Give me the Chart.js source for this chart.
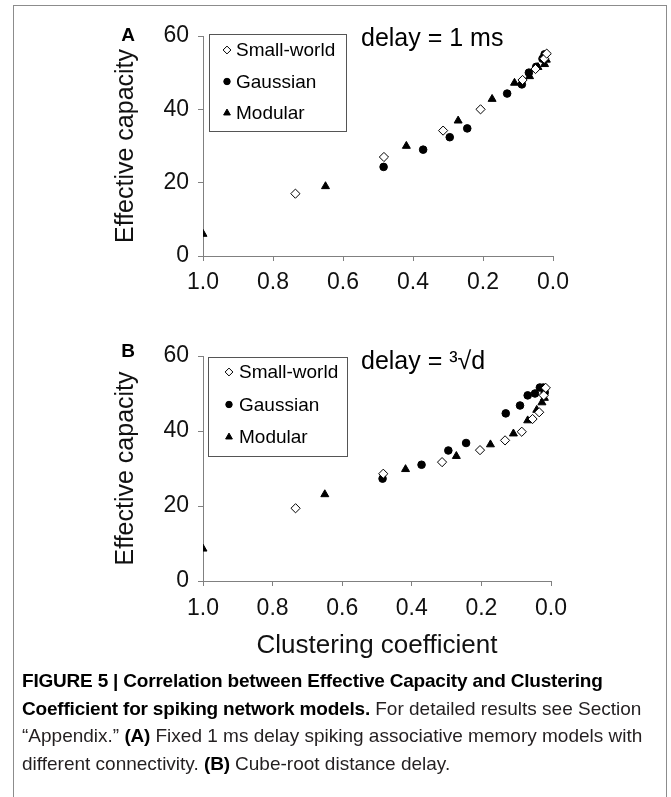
<!DOCTYPE html>
<html>
<head>
<meta charset="utf-8">
<script src="https://cdn.jsdelivr.net/npm/chart.js@4.4.0/dist/chart.umd.min.js"></script>
<style>
  body { margin: 0; background: #fff; width: 671px; height: 797px; overflow: hidden; position: relative; font-family: "Liberation Sans", Arial, sans-serif; }
  #frame { position: absolute; left: 13px; top: 5px; width: 652px; height: 830px; border: 1px solid #8c8c8c; }
  #chartA { position: absolute; left: 0; top: 0; }
  #chartB { position: absolute; left: 0; top: 300px; }
  #caption { position: absolute; left: 22px; top: 667px; width: 645px; font-family: "Liberation Sans Narrow", "Arial Narrow", "Liberation Sans", sans-serif; font-stretch: condensed; font-size: 19px; line-height: 27.6px; color: #231f20; white-space: nowrap; }
  #caption b { color: #000; letter-spacing: -0.2px; }
</style>
</head>
<body>
<div id="frame"></div>
<canvas id="chartA" width="671" height="300"></canvas>
<canvas id="chartB" width="671" height="370"></canvas>
<div id="caption">
  <b>FIGURE 5 | Correlation between Effective Capacity and Clustering</b><br>
  <b>Coefficient for spiking network models.</b> For detailed results see Section<br>
  “Appendix.” <b>(A)</b> Fixed 1 ms delay spiking associative memory models with<br>
  different connectivity. <b>(B)</b> Cube-root distance delay.
</div>
<script>
// Panel A: delay = 1 ms
const swA_x = [0.736, 0.483, 0.314, 0.207, 0.087, 0.05, 0.025, 0.018];
const swA_y = [17, 27, 34.2, 40, 48, 51, 53.8, 55.2];
const gaA_x = [0.484, 0.371, 0.295, 0.245, 0.131, 0.089, 0.069, 0.048, 0.03, 0.024];
const gaA_y = [24.3, 29, 32.4, 34.8, 44.3, 46.8, 50, 51.6, 53.8, 55];
const moA_x = [1.0, 0.65, 0.419, 0.271, 0.174, 0.11, 0.067, 0.043, 0.024, 0.019];
const moA_y = [6, 19, 30, 36.9, 42.8, 47.2, 49, 51.5, 52.3, 53.5];

// Panel B: delay = cube root of distance
const swB_x = [0.734, 0.482, 0.313, 0.204, 0.132, 0.084, 0.053, 0.034, 0.021, 0.015];
const swB_y = [19.4, 28.6, 31.7, 34.9, 37.5, 39.8, 43.2, 45, 49.5, 51.5];
const gaB_x = [0.484, 0.372, 0.295, 0.244, 0.13, 0.089, 0.067, 0.046, 0.032, 0.022, 0.018];
const gaB_y = [27.3, 31, 34.8, 36.8, 44.7, 46.8, 49.5, 50, 51.6, 51.6, 50.3];
const moB_x = [1.0, 0.65, 0.418, 0.272, 0.174, 0.108, 0.067, 0.041, 0.026, 0.019];
const moB_y = [8.6, 23.1, 29.8, 33.3, 36.4, 39.3, 42.8, 45.6, 47.6, 48.8];

const seriesNames = ["Small-world", "Gaussian", "Modular"];
const xTicks = [1.0, 0.8, 0.6, 0.4, 0.2, 0.0];
const yTicks = [0, 20, 40, 60];

const FONT = '"Liberation Sans", Arial, sans-serif';
const AXIS_GREY = "#808080";

function pts(xs, ys) {
  return xs.map((x, i) => ({ x: x, y: ys[i] }));
}

function makeDatasets(sw, ga, mo) {
  return [
    { label: seriesNames[0], data: sw, pointStyle: "rectRot", pointRadius: 4.6, backgroundColor: "#fff", borderColor: "#000", borderWidth: 1 },
    { label: seriesNames[1], data: ga, pointStyle: "circle", pointRadius: 3.8, backgroundColor: "#000", borderColor: "#000", borderWidth: 1 },
    { label: seriesNames[2], data: mo, pointStyle: "triangle", pointRadius: 4.6, backgroundColor: "#000", borderColor: "#000", borderWidth: 1 }
  ];
}

function drawMarker(ctx, style, x, y, r, fill) {
  ctx.beginPath();
  if (style === "circle") {
    ctx.arc(x, y, r, 0, Math.PI * 2);
  } else if (style === "rectRot") {
    ctx.moveTo(x, y - r); ctx.lineTo(x + r, y); ctx.lineTo(x, y + r); ctx.lineTo(x - r, y);
  } else {
    const w = r * Math.sqrt(3) / 2;
    ctx.moveTo(x, y - r); ctx.lineTo(x + w, y + r / 2); ctx.lineTo(x - w, y + r / 2);
  }
  ctx.closePath();
  ctx.fillStyle = fill;
  ctx.fill();
  ctx.strokeStyle = "#000";
  ctx.lineWidth = 1;
  ctx.stroke();
}

// panel letter, delay note and boxed legend
const panelDecor = {
  id: "panelDecor",
  afterDraw(chart, args, opts) {
    const ctx = chart.ctx;
    ctx.save();
    ctx.fillStyle = "#000";
    ctx.textBaseline = "middle";
    ctx.textAlign = "center";
    ctx.font = "bold 19px " + FONT;
    ctx.fillText(opts.letter, opts.letterX, opts.letterY);

    ctx.textAlign = "left";
    ctx.font = "25px " + FONT;
    ctx.fillText(opts.note, opts.noteX, opts.noteY);

    const b = opts.box;
    ctx.strokeStyle = "#555";
    ctx.lineWidth = 1;
    ctx.strokeRect(b.x + 0.5, b.y + 0.5, b.w, b.h);
    ctx.font = "19px " + FONT;
    chart.data.datasets.forEach((ds, i) => {
      const y = b.y + b.rowTop + i * b.rowGap;
      drawMarker(ctx, ds.pointStyle, b.x + b.symX, y, ds.pointRadius * 0.85, ds.backgroundColor);
      ctx.fillStyle = "#000";
      ctx.fillText(ds.label, b.x + b.textX, y + 1);
    });
    ctx.restore();
  }
};

function makeOptions(o) {
  return {
    responsive: false,
    animation: false,
    layout: { padding: { left: 111, right: o.padRight, top: o.padTop, bottom: o.padBottom } },
    plugins: {
      legend: { display: false },
      tooltip: { enabled: false },
      panelDecor: o.decor
    },
    scales: {
      x: {
        type: "linear", reverse: true, min: 0, max: 1,
        afterBuildTicks: s => { s.ticks = xTicks.map(v => ({ value: v })); },
        ticks: { callback: v => v.toFixed(1), font: { family: FONT, size: 23 }, color: "#111", padding: o.xPad, maxRotation: 0, autoSkip: false },
        grid: { drawOnChartArea: false, tickLength: 5, color: AXIS_GREY },
        border: { color: AXIS_GREY },
        title: o.xTitle ? { display: true, text: o.xTitle, font: { family: FONT, size: 26 }, color: "#111", padding: { top: 4, bottom: 4 } } : { display: false },
        afterFit: s => { s.height = o.xHeight; }
      },
      y: {
        type: "linear", min: 0, max: 60,
        afterBuildTicks: s => { s.ticks = yTicks.map(v => ({ value: v })); },
        ticks: { font: { family: FONT, size: 23 }, color: "#111", padding: 9 },
        grid: { drawOnChartArea: false, tickLength: 5, color: AXIS_GREY },
        border: { color: AXIS_GREY },
        title: { display: true, text: "Effective capacity", font: { family: FONT, size: 25 }, color: "#111", padding: { top: 0, bottom: 0 } },
        afterFit: s => { s.width = 92; }
      }
    }
  };
}

new Chart(document.getElementById("chartA"), {
  type: "scatter",
  data: { datasets: makeDatasets(pts(swA_x, swA_y), pts(gaA_x, gaA_y), pts(moA_x, moA_y)) },
  options: makeOptions({
    padRight: 118, padTop: 36, padBottom: 0, xHeight: 44, xPad: 8,
    decor: {
      letter: "A", letterX: 128, letterY: 36,
      note: "delay = 1 ms", noteX: 361, noteY: 39,
      box: { x: 209, y: 34, w: 137, h: 97, symX: 18, textX: 27, rowTop: 16, rowGap: 31.5 }
    }
  }),
  plugins: [panelDecor]
});

new Chart(document.getElementById("chartB"), {
  type: "scatter",
  data: { datasets: makeDatasets(pts(swB_x, swB_y), pts(gaB_x, gaB_y), pts(moB_x, moB_y)) },
  options: makeOptions({
    padRight: 120, padTop: 56, padBottom: 4.5, xHeight: 84.5, xPad: 9, xTitle: "Clustering coefficient",
    decor: {
      letter: "B", letterX: 128, letterY: 52,
      note: "delay = ³√d", noteX: 361, noteY: 62,
      box: { x: 208, y: 57, w: 139, h: 99, symX: 21, textX: 31, rowTop: 15, rowGap: 32.5 }
    }
  }),
  plugins: [panelDecor]
});
</script>
</body>
</html>
